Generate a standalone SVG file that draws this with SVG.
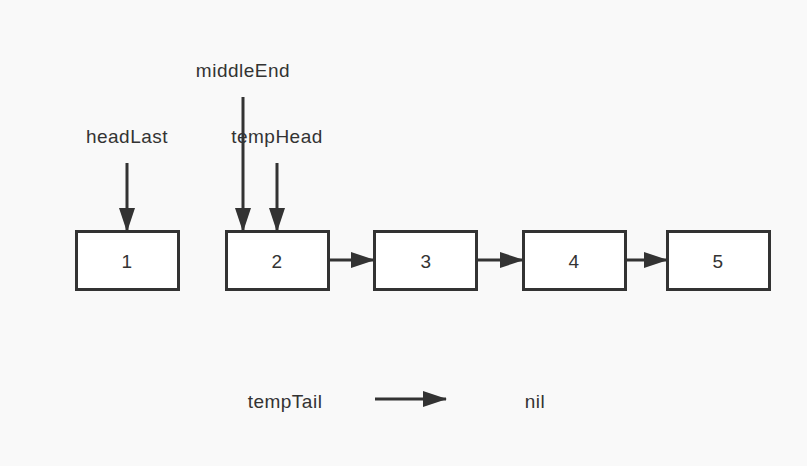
<svg xmlns="http://www.w3.org/2000/svg" width="807" height="466" viewBox="0 0 807 466">
<defs>
<style>
.box{fill:#fff;stroke:#333;stroke-width:3}
.lbl{font-family:"Liberation Sans",Arial,sans-serif;font-size:19px;letter-spacing:0.5px;fill:#333;text-anchor:middle}
.edge{stroke:#333;stroke-width:3;fill:none}
</style>
<marker id="ah" markerUnits="userSpaceOnUse" markerWidth="24" markerHeight="16" refX="23" refY="8" orient="auto" viewBox="0 0 24 16">
<path d="M0,0 L24,8 L0,16 Z" fill="#333"/>
</marker>
</defs>
<rect width="807" height="466" fill="#f9f9f9"/>
<g id="n1"><rect class="box" x="76.5" y="231.5" width="102" height="58"/><text class="lbl" x="127" y="268">1</text></g>
<g id="n2"><rect class="box" x="226.5" y="231.5" width="102" height="58"/><text class="lbl" x="277" y="268">2</text></g>
<g id="n3"><rect class="box" x="374.5" y="231.5" width="102" height="58"/><text class="lbl" x="426" y="268">3</text></g>
<g id="n4"><rect class="box" x="523.5" y="231.5" width="102" height="58"/><text class="lbl" x="574" y="268">4</text></g>
<g id="n5"><rect class="box" x="667.5" y="231.5" width="102" height="58"/><text class="lbl" x="718" y="268">5</text></g>
<g id="labels">
<text class="lbl" x="243" y="77">middleEnd</text>
<text class="lbl" x="127" y="143">headLast</text>
<text class="lbl" x="277" y="143">tempHead</text>
<text class="lbl" x="285" y="408">tempTail</text>
<text class="lbl" x="535" y="408">nil</text>
</g>
<g id="connectors">
<line class="edge" x1="127" y1="163" x2="127" y2="231" marker-end="url(#ah)"/>
<line class="edge" x1="243" y1="97" x2="243" y2="231" marker-end="url(#ah)"/>
<line class="edge" x1="277" y1="163" x2="277" y2="231" marker-end="url(#ah)"/>
<line class="edge" x1="328" y1="260" x2="374" y2="260" marker-end="url(#ah)"/>
<line class="edge" x1="477" y1="260" x2="523" y2="260" marker-end="url(#ah)"/>
<line class="edge" x1="626" y1="260" x2="667" y2="260" marker-end="url(#ah)"/>
<line class="edge" x1="375" y1="399" x2="446" y2="399" marker-end="url(#ah)"/>
</g>
</svg>
